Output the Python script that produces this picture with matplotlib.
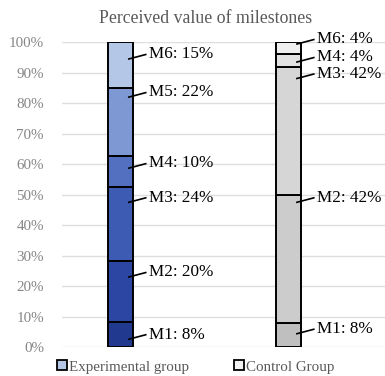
import matplotlib
matplotlib.use("Agg")
import matplotlib.pyplot as plt
import numpy as np

plt.rcParams['font.family'] = ['Liberation Serif', 'DejaVu Serif']

groups = ["Experimental group", "Control Group"]
milestones = ["M1", "M2", "M3", "M4", "M5", "M6"]
exp_values = [8, 20, 24, 10, 22, 15]
ctrl_values = [8, 42, 42, 4, 0, 4]
exp_colors = ["#213a8f", "#2b46a3", "#3e5bb3", "#5270bf", "#7d98d3", "#b4c7e7"]
ctrl_colors = ["#bfbfbf", "#cccccc", "#d6d6d6", "#e2e2e2", "#e9e9e9", "#efefef"]
# label anchor heights (percent of bar) for leader lines
exp_label_y = [2.5, 22.9, 47.4, 58.6, 81.9, 94.4]
ctrl_label_y = [4.3, 47.4, 88.0, 93.4, None, 99.3]

fig = plt.figure(figsize=(3.85, 3.76), dpi=100)
ax = fig.add_axes([0.161, 0.077, 0.839, 0.811])

width = 0.149
series = [(exp_values, exp_colors, exp_label_y), (ctrl_values, ctrl_colors, ctrl_label_y)]
for xi, (vals, cols, ly) in enumerate(series):
    vals = np.array(vals, dtype=float)
    pct = vals / vals.sum() * 100
    bottom = 0.0
    for i, (v, c) in enumerate(zip(pct, cols)):
        if v <= 0:
            continue
        ax.bar(xi, v, width=width, bottom=bottom, color=c, edgecolor="black",
               linewidth=1.4, zorder=3)
        bottom += v
    for i, v in enumerate(vals):
        if v <= 0 or ly[i] is None:
            continue
        y0 = ly[i]
        x0 = xi + 0.045
        x1 = xi + 0.155
        y1 = y0 + 1.6
        ax.plot([x0, x1], [y0, y1], color="black", lw=1.2, zorder=4,
                solid_capstyle="butt", clip_on=False)
        ax.text(x1 + 0.016, y1, f"{milestones[i]}: {int(v)}%", fontsize=12.3,
                va="center", ha="left", color="black", zorder=5)

ax.set_xlim(-0.348, 1.574)
ax.set_ylim(0, 100)
ax.set_yticks(np.arange(0, 101, 10))
ax.set_yticklabels([f"{t}%" for t in range(0, 101, 10)])
ax.tick_params(axis="y", length=0, pad=13, labelsize=10.8, labelcolor="#858585")
ax.set_xticks([])
ax.grid(axis="y", color="#dedede", lw=1, zorder=0)
for s in ax.spines.values():
    s.set_visible(False)

fig.text(0.535, 0.95, "Perceived value of milestones", ha="center", va="center",
         fontsize=12.8, color="#595959")

# legend
from matplotlib.patches import Rectangle
handles = [Rectangle((0, 0), 1, 1, facecolor=exp_colors[-1], edgecolor="black", lw=1.3),
           Rectangle((0, 0), 1, 1, facecolor="#f2f2f2", edgecolor="black", lw=1.3)]
leg = fig.legend(handles, groups, loc="center", bbox_to_anchor=(0.508, 0.024),
                 ncol=2, frameon=False, fontsize=10.8, handlelength=0.65,
                 handleheight=0.65, handletextpad=0.15, columnspacing=3.0)
for t in leg.get_texts():
    t.set_color("#595959")

fig.savefig("out.png", dpi=100)
